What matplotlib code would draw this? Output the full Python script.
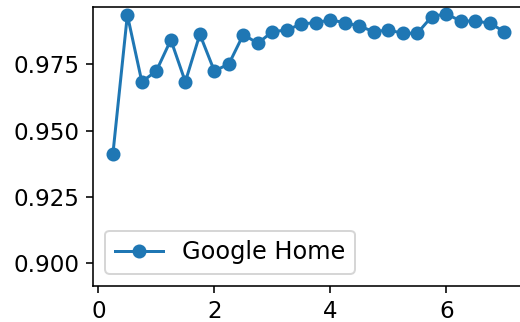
import numpy as np
import matplotlib.pyplot as plt

# accuracy per step
steps = [0.25, 0.5, 0.75, 1.0, 1.25, 1.5, 1.75, 2.0, 2.25, 2.5, 2.75, 3.0, 3.25, 3.5,
         3.75, 4.0, 4.25, 4.5, 4.75, 5.0, 5.25, 5.5, 5.75, 6.0, 6.25, 6.5, 6.75, 7.0]
acc = [0.9411, 0.9936, 0.9684, 0.9725, 0.9842, 0.9684, 0.9863, 0.9725, 0.9751, 0.9862,
       0.9829, 0.9873, 0.9879, 0.9902, 0.9907, 0.9917, 0.9907, 0.9894, 0.9873, 0.9879,
       0.9867, 0.9867, 0.9930, 0.9940, 0.9913, 0.9913, 0.9905, 0.9873]
label = 'Google Home'

plt.rcParams['font.size'] = 12

fig = plt.figure(figsize=(520/144, 322/144), dpi=144)
ax = fig.add_axes([0.1794, 0.1127, 0.828, 0.8665])
ax.plot(steps, acc, marker='o', label=label)
ax.set_xlim(-0.0875, 7.3375)
ax.set_ylim(0.8916, 0.9967)
ax.set_xticks([0, 2, 4, 6])
ax.set_yticks([0.900, 0.925, 0.950, 0.975])
ax.tick_params(labelsize=11.5)
ax.legend(loc='lower left')

fig.savefig('out.png', dpi=144)
